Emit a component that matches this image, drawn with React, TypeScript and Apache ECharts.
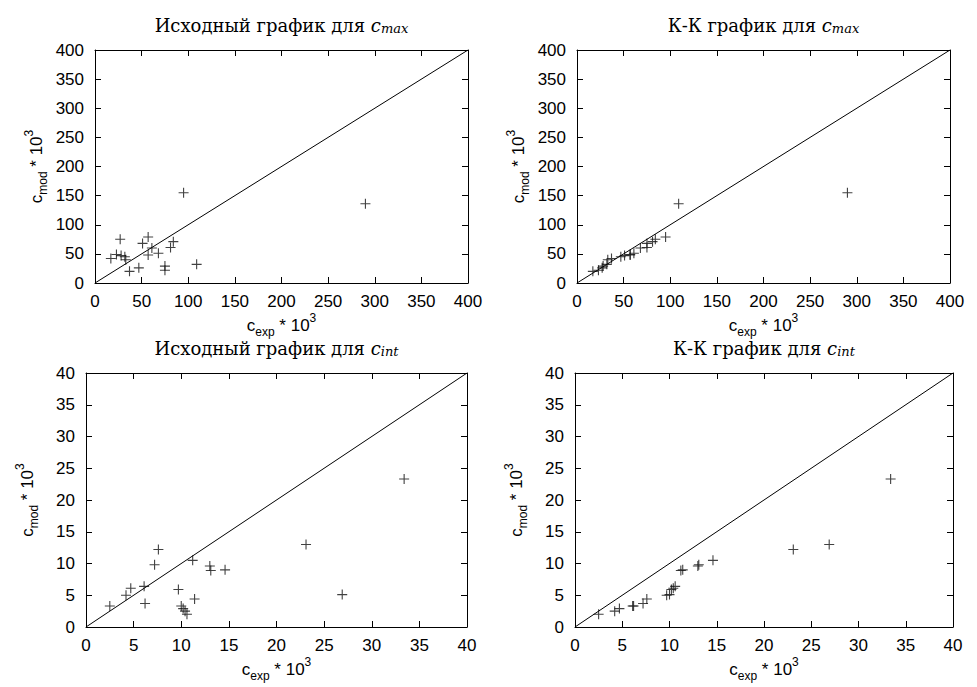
import React, { useEffect, useRef } from "react";
import * as echarts from "echarts";

// c_max, original plot (experimental vs model), values * 10^3
const maxExp = [17, 23, 27, 28, 32, 33, 37, 47, 51, 57, 57, 61, 68, 75, 75, 81, 84, 95, 109, 290];
const maxMod = [42, 49, 75, 47, 45, 40, 20, 26, 68, 79, 48, 60, 51, 29, 22, 61, 71, 155, 32, 136];
// c_max, Q-Q plot
const maxQQExp = [17, 23, 27, 28, 32, 33, 37, 47, 51, 57, 57, 61, 68, 75, 75, 81, 84, 95, 109, 290];
const maxQQMod = [20, 22, 26, 29, 32, 40, 42, 45, 47, 48, 49, 51, 60, 61, 68, 71, 75, 79, 136, 155];
// c_int, original plot
const intExp = [2.5, 4.2, 4.7, 6.1, 6.2, 7.2, 7.6, 9.7, 10.0, 10.2, 10.4, 10.6, 11.2, 11.4, 13.0, 13.1, 14.6, 23.1, 26.9, 33.4];
const intMod = [3.3, 5.0, 6.1, 6.4, 3.7, 9.8, 12.2, 5.9, 3.3, 2.9, 2.5, 2.0, 10.5, 4.4, 9.6, 8.9, 9.0, 13.0, 5.1, 23.3];
// c_int, Q-Q plot
const intQQExp = [2.5, 4.2, 4.7, 6.1, 6.2, 7.2, 7.6, 9.7, 10.0, 10.2, 10.4, 10.6, 11.2, 11.4, 13.0, 13.1, 14.6, 23.1, 26.9, 33.4];
const intQQMod = [2.0, 2.5, 2.9, 3.3, 3.3, 3.7, 4.4, 5.0, 5.1, 5.9, 6.1, 6.4, 8.9, 9.0, 9.6, 9.8, 10.5, 12.2, 13.0, 23.3];

const titlesPrefix = ["Исходный график для ", "К-К график для ", "Исходный график для ", "К-К график для "];
const titlesSub = ["max", "max", "int", "int"];
const axisMax = [400, 400, 40, 40];
const axisStep = [50, 50, 5, 5];

const SANS = "'Liberation Sans', Arial, sans-serif";
const SERIF = "'DejaVu Serif', 'Liberation Serif', serif";

const grids = [
  { left: 95, top: 50, width: 373, height: 233 },
  { left: 577, top: 50, width: 373, height: 233 },
  { left: 86, top: 373, width: 381, height: 254 },
  { left: 575, top: 373, width: 378, height: 254 },
];

const PLUS = "path://M0,4.45H10V5.55H0Z M4.45,0H5.55V10H4.45Z";

const nameRich = {
  a: { fontSize: 17, fontFamily: SANS, color: "#000", lineHeight: 26, verticalAlign: "middle" as const },
  sub: { fontSize: 12, fontFamily: SANS, color: "#000", lineHeight: 12, verticalAlign: "bottom" as const },
  sup: { fontSize: 12, fontFamily: SANS, color: "#000", lineHeight: 12, verticalAlign: "top" as const },
};

function pairs(xs: number[], ys: number[]) {
  return xs.map((x, i) => [x, ys[i]]);
}

export default function App() {
  const ref = useRef<HTMLDivElement>(null);
  useEffect(() => {
    if (!ref.current) return;
    const chart = echarts.init(ref.current, null, { renderer: "svg" });
    const data = [
      pairs(maxExp, maxMod),
      pairs(maxQQExp, maxQQMod),
      pairs(intExp, intMod),
      pairs(intQQExp, intQQMod),
    ];
    const xAxis: any[] = [];
    const yAxis: any[] = [];
    const series: any[] = [];
    const title: any[] = [];
    grids.forEach((g, i) => {
      const base = {
        gridIndex: i,
        type: "value",
        min: 0,
        max: axisMax[i],
        interval: axisStep[i],
        splitLine: { show: false },
        axisLine: { show: true, onZero: false, lineStyle: { color: "#000", width: 1 } },
        axisTick: { show: true, inside: true, length: 6, lineStyle: { color: "#000", width: 1 } },
      };
      xAxis.push({
        ...base,
        position: "bottom",
        axisLabel: { show: true, color: "#000", fontSize: 17, fontFamily: SANS, margin: 10 },
        name: "{a|c}{sub|exp}{a| * 10}{sup|3}",
        nameLocation: "middle",
        nameGap: 29,
        nameTextStyle: { rich: nameRich },
      });
      xAxis.push({ ...base, position: "top", axisLabel: { show: false } });
      yAxis.push({
        ...base,
        position: "left",
        axisLabel: { show: true, color: "#000", fontSize: 17, fontFamily: SANS, margin: 11 },
        name: "{a|c}{sub|mod}{a| * 10}{sup|3}",
        nameLocation: "middle",
        nameRotate: 90,
        nameGap: 46,
        nameTextStyle: { rich: nameRich },
      });
      yAxis.push({ ...base, position: "right", axisLabel: { show: false } });
      const xi = i * 2;
      series.push({
        type: "line",
        xAxisIndex: xi,
        yAxisIndex: xi,
        data: [
          [0, 0],
          [axisMax[i], axisMax[i]],
        ],
        showSymbol: false,
        symbol: "none",
        lineStyle: { color: "#000", width: 1 },
        silent: true,
      });
      series.push({
        type: "scatter",
        xAxisIndex: xi,
        yAxisIndex: xi,
        data: data[i],
        symbol: PLUS,
        symbolSize: 10,
        itemStyle: { color: "#111" },
      });
      title.push({
        text: titlesPrefix[i] + "{i|c}{s|" + titlesSub[i] + "}",
        left: g.left + g.width / 2,
        top: g.top - 35,
        padding: 0,
        textAlign: "center",
        textStyle: {
          fontFamily: SERIF,
          fontWeight: "normal",
          fontSize: 18,
          color: "#000",
          lineHeight: 20,
          rich: {
            i: { fontFamily: SERIF, fontStyle: "italic", fontSize: 18, color: "#000", lineHeight: 20, verticalAlign: "middle" },
            s: { fontFamily: SERIF, fontStyle: "italic", fontSize: 13, color: "#000", lineHeight: 11, verticalAlign: "bottom" },
          },
        },
      });
    });
    chart.setOption({
      animation: false,
      backgroundColor: "#fff",
      title,
      grid: grids.map((g) => ({ ...g, show: false })),
      xAxis,
      yAxis,
      series,
    });
    return () => chart.dispose();
  }, []);
  return (
    <div
      ref={ref}
      style={{ position: "fixed", left: 0, top: 0, width: 977, height: 687, background: "#fff" }}
    />
  );
}
